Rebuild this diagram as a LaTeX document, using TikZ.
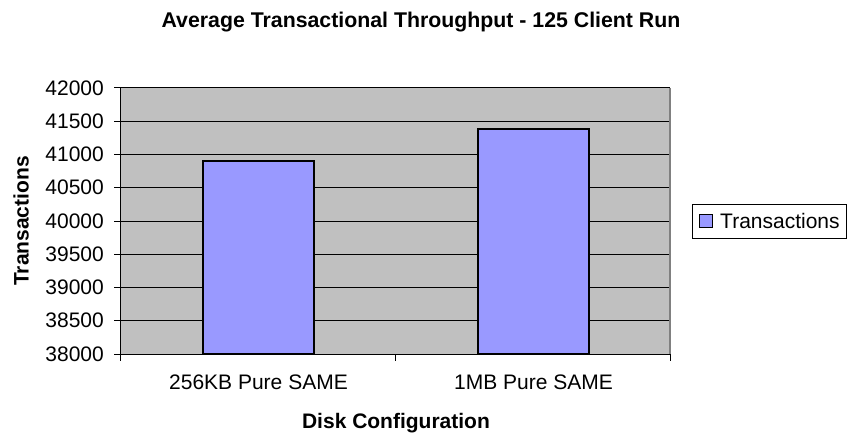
\documentclass[tikz,border=0pt]{standalone}
\usepackage{fontspec}
\setmainfont{Liberation Sans}
\definecolor{plotgray}{HTML}{C0C0C0}
\definecolor{barblue}{HTML}{9999FF}
\definecolor{framegray}{HTML}{808080}
\begin{document}
\begin{tikzpicture}[x=1pt,y=-1pt,
  lbl/.style={inner sep=0pt, font=\fontsize{21}{25}\selectfont},
  boldlbl/.style={inner sep=0pt, font=\fontsize{21}{25}\selectfont\bfseries},
  gridline/.style={black, line width=1pt},
  barbox/.style={fill=barblue, draw=black, line width=2pt},
  axisline/.style={black, line width=1pt}]
  \useasboundingbox (0,0) rectangle (855,436);
  \fill[white] (0,0) rectangle (855,436);

  % plot area
  \fill[plotgray] (120,88) rectangle (670,354);
  \foreach \k in {1,...,8} {
    \draw[gridline] (120,{354-\k*33.25}) -- (670,{354-\k*33.25});
  }
  % right frame of the plot area
  \draw[framegray, line width=2.5pt] (670,88) -- (670,354);

  % bars: 40900 and 41380 on a 38000..42000 scale (33.25 per 500)
  \draw[barbox] (203,354) rectangle (314,161.15);
  \draw[barbox] (478,354) rectangle (589,129.23);

  % axes with tick marks
  \draw[axisline] (120,88) -- (120,354) -- (670,354);
  \foreach \k in {0,...,8} {
    \draw[axisline] (114,{354-\k*33.25}) -- (120,{354-\k*33.25});
  }
  \foreach \x in {120,395,670} {
    \draw[axisline] (\x,354) -- (\x,361);
  }

  % tick labels
  \foreach \v [count=\k from 0] in {38000,38500,39000,39500,40000,40500,41000,41500,42000} {
    \node[lbl, anchor=east] (tick\k) at (104,{354-\k*33.25}) {\v};
  }
  \node[lbl, anchor=base] (cat1) at (258.5,389) {256KB Pure SAME};
  \node[lbl, anchor=base] (cat2) at (533.5,389) {1MB Pure SAME};

  % titles
  \node[boldlbl, font=\fontsize{21.3}{25}\selectfont\bfseries, anchor=base] (title) at (421,27.5) {Average Transactional Throughput - 125 Client Run};
  \node[boldlbl, anchor=base] (xtitle) at (396,428) {Disk Configuration};
  \node[boldlbl, rotate=90] (ytitle) at (21,221) {Transactions};

  % legend
  \node[draw=black, line width=1pt, minimum width=154pt, minimum height=34pt, inner sep=0pt] (legend) at (769,221) {};
  \node[barbox, line width=1.5pt, minimum width=13pt, minimum height=13pt, inner sep=0pt] (key) at (706,221) {};
  \node[lbl, anchor=west] (keytext) at (720,221) {Transactions};
\end{tikzpicture}
\end{document}
